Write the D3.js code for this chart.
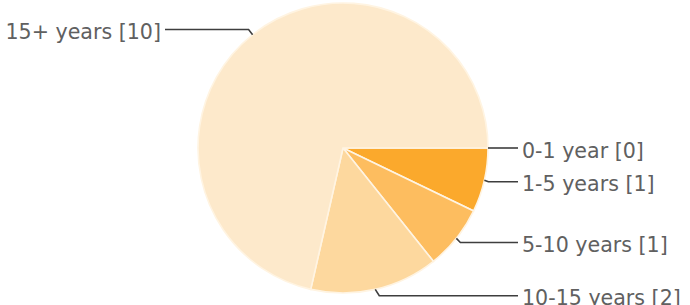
<!DOCTYPE html>
<html>
<head>
<meta charset="utf-8">
<script src="https://cdn.jsdelivr.net/npm/d3@7"></script>
<style>
  body { margin: 0; background: #fff; }
  svg { display: block; }
  .lbl { font-family: "DejaVu Sans", sans-serif; font-size: 20.6px; fill: #606060; }
</style>
</head>
<body>
<svg id="chart" width="690" height="305"></svg>
<script>
// data
var categories = ["0-1 year", "1-5 years", "5-10 years", "10-15 years", "15+ years"];
var counts = [0, 1, 1, 2, 10];
var colors = ["#fb9f1c", "#fba92c", "#fdbd5f", "#fdd89e", "#fde9cb"];

var width = 690, height = 305;
var cx = 343, cy = 148, r = 145;

var svg = d3.select("#chart");
var g = svg.append("g").attr("transform", "translate(" + cx + "," + cy + ")");

var items = categories.map(function (c, i) { return { name: c, value: counts[i], color: colors[i] }; });

var pie = d3.pie()
    .sort(null)
    .value(function (d) { return d.value; })
    .startAngle(Math.PI / 2)
    .endAngle(Math.PI / 2 + 2 * Math.PI);

var arc = d3.arc().innerRadius(0).outerRadius(r);
var arcs = pie(items);

g.selectAll("path.slice")
    .data(arcs)
    .enter().append("path")
    .attr("class", "slice")
    .attr("d", arc)
    .attr("fill", function (d) { return d.data.color; })
    .attr("stroke", "#fff4e2")
    .attr("stroke-width", 1.6);

// leader lines + labels
var rightX = 175, leftX = -178;
arcs.forEach(function (d) {
    var a = (d.startAngle + d.endAngle) / 2;
    var px = Math.sin(a) * r, py = -Math.cos(a) * r;
    var side = px >= 0 ? 1 : -1;
    var ly = py + py * 0.045;
    var endX = side > 0 ? rightX : leftX;

    g.append("path")
        .attr("d", "M" + px + "," + py + "L" + (px + 4 * side) + "," + ly + "L" + endX + "," + ly)
        .attr("fill", "none")
        .attr("stroke", "#3e3e3e")
        .attr("stroke-width", 1.6);

    g.append("text")
        .attr("class", "lbl")
        .attr("x", endX + 4 * side)
        .attr("y", ly + 9.5)
        .attr("text-anchor", side > 0 ? "start" : "end")
        .text(d.data.name + " [" + d.data.value + "]");
});
</script>
</body>
</html>
